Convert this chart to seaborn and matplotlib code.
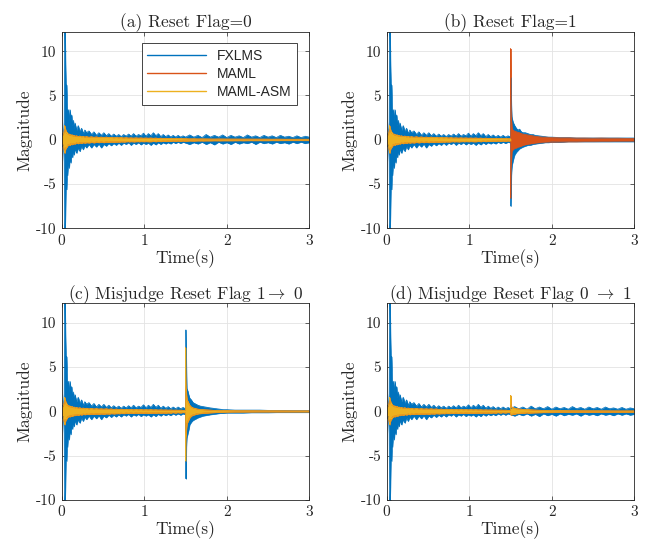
import numpy as np
import pandas as pd
import matplotlib
matplotlib.use('Agg')
import matplotlib.pyplot as plt
import seaborn as sns

# Envelope (upper / lower peaks) of each signal
t_pre = [0.00, 0.01, 0.02, 0.03, 0.035, 0.04, 0.045, 0.05, 0.055, 0.06, 0.065, 0.07,
         0.08, 0.09, 0.10, 0.11, 0.12, 0.13, 0.14, 0.15, 0.16,
         0.18, 0.20, 0.22, 0.24, 0.26, 0.28, 0.30,
         0.33, 0.36, 0.39, 0.42, 0.45, 0.48, 0.51, 0.54, 0.57, 0.60, 0.63, 0.66, 0.69,
         0.72, 0.75, 0.78, 0.81, 0.84, 0.87, 0.90, 0.93, 0.96, 0.99, 1.02, 1.05, 1.08,
         1.11, 1.14, 1.17, 1.20, 1.23, 1.26, 1.29, 1.32, 1.35, 1.38, 1.41, 1.44, 1.47, 1.50]

fx_up_pre = [0.5, 0.7, 0.6, 2.0, 12.5, 13.0, 9.0, 6.5, 4.5, 6.2, 3.5, 3.0,
             3.4, 2.2, 3.4, 2.4, 2.8, 1.6, 2.2, 1.3, 1.9,
             1.1, 1.6, 0.9, 1.3, 0.7, 1.1, 0.8,
             1.0, 0.6, 0.9, 0.5, 0.8, 0.5, 0.8, 0.45, 0.7, 0.4, 0.65, 0.4, 0.6,
             0.35, 0.6, 0.4, 0.65, 0.4, 0.7, 0.4, 0.6, 0.45, 0.75, 0.4, 0.7, 0.45,
             0.8, 0.45, 0.7, 0.35, 0.6, 0.35, 0.55, 0.3, 0.5, 0.3, 0.5, 0.3, 0.45, 0.3]
fx_lo_pre = [-0.5, -0.8, -0.6, -2.5, -10.5, -10.5, -8.5, -5.6, -4.2, -5.6, -3.4, -4.0,
             -2.4, -3.2, -2.0, -2.6, -1.5, -2.0, -1.2, -1.7, -1.0,
             -1.5, -0.9, -1.3, -0.7, -1.1, -0.6, -0.9,
             -0.5, -0.9, -0.5, -0.8, -0.45, -0.9, -0.5, -0.7, -0.4, -0.65, -0.4, -0.6, -0.35,
             -0.6, -0.35, -0.5, -0.3, -0.6, -0.35, -0.5, -0.3, -0.55, -0.35, -0.5, -0.35,
             -0.6, -0.35, -0.55, -0.3, -0.5, -0.3, -0.45, -0.3, -0.45, -0.25, -0.4, -0.25, -0.4, -0.25, -0.35]

asm_up_pre = [0.3, 0.5, 0.6, 1.0, 1.6, 1.3, 1.2, 1.0, 0.8, 0.9, 0.7, 0.75,
              0.6, 0.65, 0.5, 0.6, 0.45, 0.55, 0.42, 0.5, 0.4,
              0.45, 0.36, 0.42, 0.33, 0.38, 0.3, 0.36,
              0.28, 0.34, 0.27, 0.32, 0.26, 0.3, 0.25, 0.3, 0.24, 0.28, 0.22, 0.26, 0.22,
              0.25, 0.2, 0.24, 0.19, 0.22, 0.18, 0.22, 0.18, 0.21, 0.17, 0.2, 0.17, 0.2,
              0.16, 0.19, 0.15, 0.18, 0.15, 0.17, 0.14, 0.16, 0.13, 0.15, 0.13, 0.14, 0.12, 0.12]
asm_lo_pre = [-0.3, -0.5, -0.7, -1.2, -1.5, -1.2, -1.1, -0.9, -0.9, -0.75, -0.8, -0.6,
              -0.65, -0.5, -0.6, -0.45, -0.55, -0.42, -0.5, -0.4, -0.45,
              -0.36, -0.42, -0.33, -0.38, -0.3, -0.35, -0.3,
              -0.33, -0.27, -0.32, -0.26, -0.3, -0.25, -0.3, -0.24, -0.28, -0.22, -0.26, -0.22, -0.25,
              -0.2, -0.24, -0.19, -0.22, -0.18, -0.22, -0.18, -0.21, -0.17, -0.2, -0.17, -0.2, -0.19,
              -0.16, -0.19, -0.15, -0.18, -0.15, -0.17, -0.14, -0.16, -0.13, -0.15, -0.13, -0.14, -0.12, -0.12]

# after 1.5 s, no reset (panels a, d)
t_late = [1.50, 1.55, 1.60, 1.65, 1.70, 1.75, 1.80, 1.85, 1.90, 1.95, 2.00, 2.05, 2.10,
          2.15, 2.20, 2.25, 2.30, 2.35, 2.40, 2.45, 2.50, 2.55, 2.60, 2.65, 2.70, 2.75,
          2.80, 2.85, 2.90, 2.95, 3.00]
fx_up_late = [0.3, 0.55, 0.3, 0.5, 0.25, 0.6, 0.3, 0.5, 0.3, 0.55, 0.25, 0.5, 0.3,
              0.45, 0.25, 0.55, 0.3, 0.45, 0.25, 0.5, 0.3, 0.45, 0.25, 0.5, 0.3, 0.4,
              0.25, 0.45, 0.25, 0.4, 0.3]
fx_lo_late = [-0.25, -0.5, -0.3, -0.45, -0.25, -0.5, -0.3, -0.55, -0.25, -0.45, -0.3, -0.5, -0.25,
              -0.45, -0.3, -0.4, -0.25, -0.5, -0.25, -0.4, -0.3, -0.45, -0.25, -0.4, -0.3, -0.45,
              -0.25, -0.4, -0.25, -0.4, -0.3]
asm_up_late = [0.12, 0.1, 0.11, 0.09, 0.1, 0.09, 0.09, 0.08, 0.09, 0.08, 0.08, 0.08, 0.08,
               0.07, 0.08, 0.07, 0.07, 0.07, 0.07, 0.07, 0.07, 0.06, 0.07, 0.06, 0.06, 0.06,
               0.06, 0.06, 0.06, 0.06, 0.06]
asm_lo_late = [-v for v in asm_up_late]

# after 1.5 s with a burst (panels b, c, d)
t_burst = [1.50, 1.502, 1.505, 1.51, 1.515, 1.52, 1.53, 1.54, 1.55, 1.57, 1.59, 1.61, 1.63,
           1.65, 1.68, 1.71, 1.74, 1.77, 1.80, 1.84, 1.88, 1.92, 1.96, 2.00, 2.10, 2.20,
           2.30, 2.40, 2.50, 2.60, 2.70, 2.80, 2.90, 3.00]

fx_up_b = [0.4, 3.0, 7.0, 4.0, 2.6, 2.4, 2.0, 1.8, 1.6, 1.3, 1.1, 1.2, 0.9,
           0.8, 0.8, 0.7, 0.6, 0.6, 0.5, 0.45, 0.4, 0.35, 0.3, 0.3, 0.25, 0.25,
           0.2, 0.2, 0.2, 0.2, 0.2, 0.2, 0.2, 0.2]
fx_lo_b = [-0.35, -3.0, -7.5, -4.0, -3.2, -2.8, -2.4, -2.0, -1.7, -1.4, -1.2, -1.0, -0.9,
           -0.8, -0.7, -0.6, -0.6, -0.5, -0.45, -0.4, -0.35, -0.3, -0.3, -0.25, -0.25, -0.2,
           -0.2, -0.2, -0.2, -0.2, -0.2, -0.2, -0.2, -0.2]
maml_up_b = [0.1, 10.3, 6.0, 3.0, 1.5, 1.2, 1.1, 1.0, 1.0, 0.9, 0.85, 0.8, 0.7,
             0.65, 0.6, 0.55, 0.5, 0.45, 0.4, 0.35, 0.3, 0.3, 0.28, 0.25, 0.22, 0.22,
             0.2, 0.2, 0.18, 0.2, 0.18, 0.18, 0.16, 0.16]
maml_lo_b = [-0.1, -6.6, -4.5, -2.5, -1.4, -1.2, -1.1, -1.0, -0.95, -0.9, -0.8, -0.75, -0.7,
             -0.6, -0.55, -0.5, -0.45, -0.42, -0.38, -0.34, -0.3, -0.28, -0.26, -0.24, -0.22, -0.2,
             -0.2, -0.18, -0.18, -0.17, -0.17, -0.16, -0.16, -0.15]

fx_up_c = [0.4, 5.0, 9.2, 5.0, 2.6, 2.5, 2.2, 1.8, 1.5, 1.3, 1.0, 0.9, 0.8,
           0.7, 0.6, 0.55, 0.5, 0.45, 0.4, 0.35, 0.3, 0.25, 0.2, 0.2, 0.15, 0.15,
           0.15, 0.15, 0.12, 0.12, 0.12, 0.1, 0.1, 0.1]
fx_lo_c = [-0.35, -5.0, -7.6, -4.0, -3.0, -2.8, -2.4, -2.0, -1.5, -1.2, -1.0, -0.9, -0.8,
           -0.7, -0.6, -0.5, -0.45, -0.4, -0.35, -0.3, -0.25, -0.2, -0.2, -0.15, -0.15, -0.15,
           -0.12, -0.12, -0.12, -0.1, -0.1, -0.1, -0.1, -0.1]
asm_up_c = [0.1, 7.2, 3.5, 2.0, 1.5, 1.3, 1.1, 0.9, 0.7, 0.5, 0.4, 0.35, 0.3,
            0.25, 0.22, 0.2, 0.18, 0.15, 0.13, 0.12, 0.1, 0.1, 0.1, 0.1, 0.08, 0.08,
            0.08, 0.07, 0.07, 0.07, 0.06, 0.06, 0.06, 0.06]
asm_lo_c = [-0.1, -5.6, -3.0, -2.0, -1.5, -1.3, -1.1, -0.9, -0.7, -0.5, -0.4, -0.35, -0.3,
            -0.25, -0.22, -0.2, -0.18, -0.15, -0.13, -0.12, -0.1, -0.1, -0.1, -0.1, -0.08, -0.08,
            -0.08, -0.07, -0.07, -0.07, -0.06, -0.06, -0.06, -0.06]

asm_up_d = [0.1, 1.8, 0.9, 0.6, 0.5, 0.45, 0.4, 0.4, 0.35, 0.3, 0.3, 0.25, 0.25,
            0.22, 0.2, 0.2, 0.18, 0.15, 0.15, 0.13, 0.12, 0.12, 0.1, 0.1, 0.1, 0.08,
            0.08, 0.07, 0.07, 0.07, 0.06, 0.06, 0.06, 0.06]
asm_lo_d = [-0.1, -0.3, -0.4, -0.4, -0.35, -0.35, -0.3, -0.3, -0.3, -0.25, -0.25, -0.22, -0.2,
            -0.2, -0.18, -0.17, -0.15, -0.14, -0.13, -0.12, -0.11, -0.1, -0.1, -0.1, -0.08, -0.08,
            -0.08, -0.07, -0.07, -0.07, -0.06, -0.06, -0.06, -0.06]

titles = ['(a) Reset Flag=0', '(b) Reset Flag=1',
          r'(c) Misjudge Reset Flag 1$\rightarrow$ 0',
          r'(d) Misjudge Reset Flag 0 $\rightarrow$ 1']
names = ['FXLMS', 'MAML', 'MAML-ASM']
colors = ['#0072BD', '#D95319', '#EDB120']


def seg(t1, u1, l1, t2=None, u2=None, l2=None):
    if t2 is None:
        return list(t1), list(u1), list(l1)
    return list(t1) + list(t2[1:]), list(u1) + list(u2[1:]), list(l1) + list(l2[1:])


panels = [
    [seg(t_pre, fx_up_pre, fx_lo_pre, t_late, fx_up_late, fx_lo_late),
     seg(t_pre, asm_up_pre, asm_lo_pre, t_late, asm_up_late, asm_lo_late),
     seg(t_pre, asm_up_pre, asm_lo_pre, t_late, asm_up_late, asm_lo_late)],
    [seg(t_pre, fx_up_pre, fx_lo_pre, t_burst, fx_up_b, fx_lo_b),
     seg(t_pre, asm_up_pre, asm_lo_pre, t_burst, maml_up_b, maml_lo_b),
     seg(t_pre, asm_up_pre, asm_lo_pre)],
    [seg(t_pre, fx_up_pre, fx_lo_pre, t_burst, fx_up_c, fx_lo_c),
     seg(t_pre, asm_up_pre, asm_lo_pre, t_burst, asm_up_c, asm_lo_c),
     seg(t_pre, asm_up_pre, asm_lo_pre, t_burst, asm_up_c, asm_lo_c)],
    [seg(t_pre, fx_up_pre, fx_lo_pre, t_late, fx_up_late, fx_lo_late),
     seg(t_pre, asm_up_pre, asm_lo_pre, t_burst, asm_up_d, asm_lo_d),
     seg(t_pre, asm_up_pre, asm_lo_pre, t_burst, asm_up_d, asm_lo_d)],
]

sns.set_style('ticks')
plt.rcParams['font.family'] = ['cmr10', 'DejaVu Serif']
plt.rcParams['mathtext.fontset'] = 'cm'
plt.rcParams['axes.unicode_minus'] = False
plt.rcParams['axes.formatter.use_mathtext'] = False

fig = plt.figure(figsize=(6.51, 5.47), dpi=100)
boxes = [[0.0948, 0.5826, 0.3803, 0.3594], [0.5940, 0.5826, 0.3803, 0.3594],
         [0.0948, 0.0859, 0.3803, 0.3596], [0.5940, 0.0859, 0.3803, 0.3596]]

for i in range(4):
    ax = fig.add_axes(boxes[i])
    for j in range(3):
        t, up, lo = panels[i][j]
        ax.fill_between(t, lo, up, color=colors[j], linewidth=0.4, edgecolor=colors[j])
        d = pd.DataFrame({'t': t + t[::-1], 'v': up + lo[::-1]})
        sns.lineplot(data=d, x='t', y='v', ax=ax, color=colors[j], lw=0.5,
                     sort=False, estimator=None, legend=False)
    ax.set_xlim(0, 3)
    ax.set_ylim(-10, 12.2)
    ax.set_xticks([0, 1, 2, 3])
    ax.set_yticks([-10, -5, 0, 5, 10])
    ax.grid(True, color='#e3e3e3', lw=0.6)
    ax.set_axisbelow(True)
    ax.tick_params(direction='in', top=True, right=True, length=3, width=0.5,
                   labelsize=11, color='#262626', pad=4)
    for s in ax.spines.values():
        s.set_color('#262626')
        s.set_linewidth(0.6)
    ax.set_xlabel('Time(s)', fontsize=12.5, labelpad=1)
    ax.set_ylabel('Magnitude', fontsize=12.5, labelpad=2)
    ax.set_title(titles[i], fontsize=12.5, pad=3)
    if i == 0:
        handles = [plt.Line2D([], [], color=c, lw=1.0) for c in colors]
        leg = ax.legend(handles, names, loc='upper right', bbox_to_anchor=(0.95, 0.942),
                        borderaxespad=0, fancybox=False, framealpha=1, handlelength=4.2,
                        prop={'family': 'Liberation Sans', 'size': 10}, labelspacing=0.3,
                        borderpad=0.4)
        leg.get_frame().set_edgecolor('#262626')
        leg.get_frame().set_linewidth(0.6)

fig.savefig('out.png', dpi=100)
